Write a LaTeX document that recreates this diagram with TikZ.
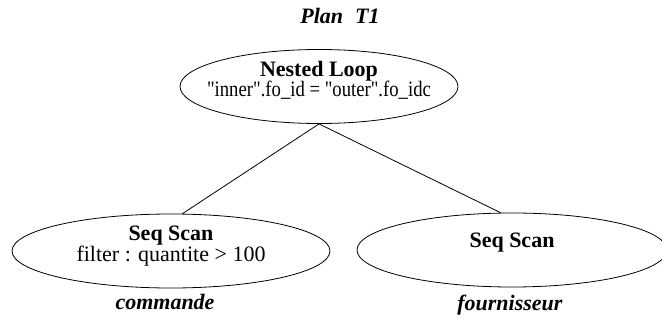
\documentclass[tikz,border=0pt]{standalone}
\usepackage{fontspec}
\usepackage{graphicx}
\setmainfont{Liberation Serif}
\usetikzlibrary{shapes.geometric}

\tikzstyle{op}=[draw,ellipse,line width=0.8pt,minimum width=#1,minimum height=74pt,inner sep=0pt]
\tikzstyle{txt}=[inner sep=0pt,anchor=base]
\newcommand{\q}{\textquotedbl}
\newcommand{\opnode}[5]{\node[op=#3] (#1) at #2 {};
    \node[txt] (#1-t) at ([yshift=#5]#1.center) {\textbf{#4}};}

\begin{document}
\begin{tikzpicture}[x=1pt,y=-1pt,font=\fontsize{22}{24}\selectfont]
    \useasboundingbox (0,0) rectangle (662,321);

    \node[txt] (title) at (340,24) {\textbf{\textit{Plan\hspace{12pt}T1}}};

    \opnode{nl}{(319,86.5)}{278pt}{Nested Loop}{10pt}
    \node[txt] (nl-d) at ([yshift=-10pt]nl.center) {\scalebox{0.85}[1]{\q inner\q.fo\_id = \q outer\q.fo\_idc}};

    \opnode{ssc}{(171,251)}{318pt}{Seq Scan}{11pt}
    \node[txt] (ssc-d) at ([yshift=-10pt]ssc.center) {filter : quantite > 100};

    \opnode{ssf}{(512,250)}{310pt}{Seq Scan}{3pt}

    \node[txt] (commande) at (165,309) {\textbf{\textit{commande}}};
    \node[txt] (fournisseur) at (510,310) {\textbf{\textit{fournisseur}}};

    \draw[line width=0.8pt] (nl.south) -- (ssc.73);
    \draw[line width=0.8pt] (nl.south) -- (ssf.107);
\end{tikzpicture}
\end{document}
